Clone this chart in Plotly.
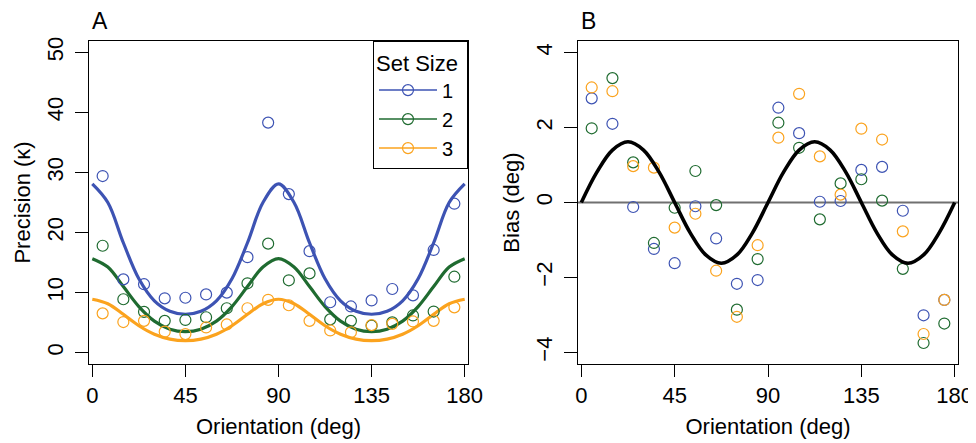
import plotly.graph_objects as go

# ---------------- data ----------------
orient_pts = [5, 15, 25, 35, 45, 55, 65, 75, 85, 95, 105, 115, 125, 135, 145, 155, 165, 175]

prec_ss1 = [29.4, 12.2, 11.4, 9.05, 9.15, 9.7, 10.0, 15.9, 38.3, 26.4, 16.9, 8.4, 7.7, 8.7, 10.6, 9.55, 17.1, 24.8]
prec_ss2 = [17.8, 8.9, 6.8, 5.3, 5.45, 5.9, 7.4, 11.55, 18.15, 12.05, 13.2, 5.55, 5.3, 4.5, 5.05, 6.2, 6.85, 12.65]
prec_ss3 = [6.55, 5.1, 5.3, 3.5, 3.1, 4.2, 4.7, 7.4, 8.8, 7.9, 5.3, 3.7, 3.4, 4.6, 4.8, 5.2, 5.3, 7.55]

bias_ss1 = [2.78, 2.10, -0.12, -1.24, -1.62, -0.10, -0.96, -2.17, -2.07, 2.53, 1.85, 0.02, 0.04, 0.87, 0.95, -0.22, -3.01, -2.60]
bias_ss2 = [1.98, 3.32, 1.07, -1.08, -0.14, 0.84, -0.07, -2.86, -1.51, 2.13, 1.46, -0.45, 0.51, 0.62, 0.05, -1.77, -3.75, -3.23]
bias_ss3 = [3.07, 2.97, 0.97, 0.93, -0.67, -0.30, -1.82, -3.05, -1.14, 1.73, 2.90, 1.23, 0.21, 1.97, 1.68, -0.77, -3.51, -2.60]

# fitted curves, every 7.5 deg
orient_curve = [0, 7.5, 15, 22.5, 30, 37.5, 45, 52.5, 60, 67.5, 75, 82.5, 90,
                97.5, 105, 112.5, 120, 127.5, 135, 142.5, 150, 157.5, 165, 172.5, 180]
fit_ss1 = [28.1, 25.0, 18.3, 12.3, 8.64, 6.9, 6.4, 6.9, 8.64, 12.3, 18.3, 25.0, 28.1,
           25.0, 18.3, 12.3, 8.64, 6.9, 6.4, 6.9, 8.64, 12.3, 18.3, 25.0, 28.1]
fit_ss2 = [15.65, 14.25, 11.0, 7.67, 5.25, 3.91, 3.5, 3.91, 5.25, 7.67, 11.0, 14.25, 15.65,
           14.25, 11.0, 7.67, 5.25, 3.91, 3.5, 3.91, 5.25, 7.67, 11.0, 14.25, 15.65]
fit_ss3 = [8.9, 8.15, 6.39, 4.49, 3.07, 2.26, 2.0, 2.26, 3.07, 4.49, 6.39, 8.15, 8.9,
           8.15, 6.39, 4.49, 3.07, 2.26, 2.0, 2.26, 3.07, 4.49, 6.39, 8.15, 8.9]
fit_bias = [0, 0.81, 1.40, 1.62, 1.40, 0.81, 0, -0.81, -1.40, -1.62, -1.40, -0.81, 0,
            0.81, 1.40, 1.62, 1.40, 0.81, 0, -0.81, -1.40, -1.62, -1.40, -0.81, 0]

set_sizes = ["1", "2", "3"]
x_ticks = [0, 45, 90, 135, 180]
prec_ticks = [0, 10, 20, 30, 40, 50]
bias_ticks = [-4, -2, 0, 2, 4]

# ---------------- style ----------------
colors = ["#3D53B3", "#1F6B30", "#FBA31E"]
FONT = "Liberation Sans, Arial, Helvetica, sans-serif"
FS = 22

fig = go.Figure()

prec = [prec_ss1, prec_ss2, prec_ss3]
fits = [fit_ss1, fit_ss2, fit_ss3]
bias = [bias_ss1, bias_ss2, bias_ss3]

for i in range(3):
    fig.add_trace(go.Scatter(x=orient_curve, y=fits[i], mode="lines", line=dict(color=colors[i], width=3.2, shape="spline"),
                             showlegend=False, xaxis="x", yaxis="y", hoverinfo="skip"))
for i in range(3):
    fig.add_trace(go.Scatter(x=orient_pts, y=prec[i], mode="markers",
                             marker=dict(symbol="circle-open", size=11, color=colors[i], line=dict(width=1.2, color=colors[i])),
                             showlegend=False, xaxis="x", yaxis="y"))
# legend entries
for i in range(3):
    fig.add_trace(go.Scatter(x=[None], y=[None], mode="lines+markers", name=set_sizes[i],
                             line=dict(color=colors[i], width=1.5),
                             marker=dict(symbol="circle-open", size=11, color=colors[i], line=dict(width=1.2, color=colors[i])),
                             xaxis="x", yaxis="y"))

# panel B
for i in range(3):
    fig.add_trace(go.Scatter(x=orient_pts, y=bias[i], mode="markers",
                             marker=dict(symbol="circle-open", size=11, color=colors[i], line=dict(width=1.2, color=colors[i])),
                             showlegend=False, xaxis="x2", yaxis="y2"))
fig.add_trace(go.Scatter(x=orient_curve, y=fit_bias, mode="lines", line=dict(color="black", width=3.6, shape="spline"),
                         showlegend=False, xaxis="x2", yaxis="y2", hoverinfo="skip"))

fig.add_shape(type="line", xref="x2 domain", yref="y2", x0=0, x1=1, y0=0, y1=0,
              line=dict(color="#707070", width=2), layer="below")

axis_common = dict(showline=True, mirror=True, linecolor="black", linewidth=1, ticks="outside",
                   tickcolor="black", tickwidth=1, showgrid=False, zeroline=False,
                   tickfont=dict(family=FONT, size=FS, color="black"))

# the page body has an 8px default margin, so the figure is 8px smaller than the window
fig.update_layout(
    width=968, height=435,
    margin=dict(l=81, r=18, t=33, b=79, autoexpand=False),
    paper_bgcolor="white", plot_bgcolor="white",
    font=dict(family=FONT, size=FS, color="black"),
    xaxis=dict(domain=[0, 0.43613], range=[-1.6, 181.6], tickvals=x_ticks, ticklen=12,
               title=dict(text="Orientation (deg)", font=dict(size=FS), standoff=11), anchor="y", **axis_common),
    yaxis=dict(domain=[0, 1], range=[-1.88, 51.88], tickvals=prec_ticks, ticklen=13, tickangle=-90,
               ticklabelstandoff=3,
               title=dict(text="Precision (κ)", font=dict(size=FS), standoff=6), anchor="x", **axis_common),
    xaxis2=dict(domain=[0.56272, 1], range=[-1.6, 181.6], tickvals=x_ticks, ticklen=12,
                title=dict(text="Orientation (deg)", font=dict(size=FS), standoff=11), anchor="y2", **axis_common),
    yaxis2=dict(domain=[0, 1], range=[-4.31, 4.31], tickvals=bias_ticks, ticklen=13, tickangle=-90,
                ticklabelstandoff=3,
                title=dict(text="Bias (deg)", font=dict(size=FS), standoff=6), anchor="x2", **axis_common),
    legend=dict(x=0.43613, xanchor="right", y=1, yanchor="top", bgcolor="white",
                bordercolor="black", borderwidth=1, font=dict(family=FONT, size=20),
                itemwidth=58, tracegroupgap=0,
                title=dict(text="Set Size ", font=dict(family=FONT, size=FS))),
    annotations=[
        dict(text="A", xref="paper", yref="paper", x=0.00115, y=1.0604, xanchor="left", yanchor="middle",
             showarrow=False, font=dict(family=FONT, size=23)),
        dict(text="B", xref="paper", yref="paper", x=0.5639, y=1.0604, xanchor="left", yanchor="middle",
             showarrow=False, font=dict(family=FONT, size=23)),
    ],
)

fig.write_html("out.html")
